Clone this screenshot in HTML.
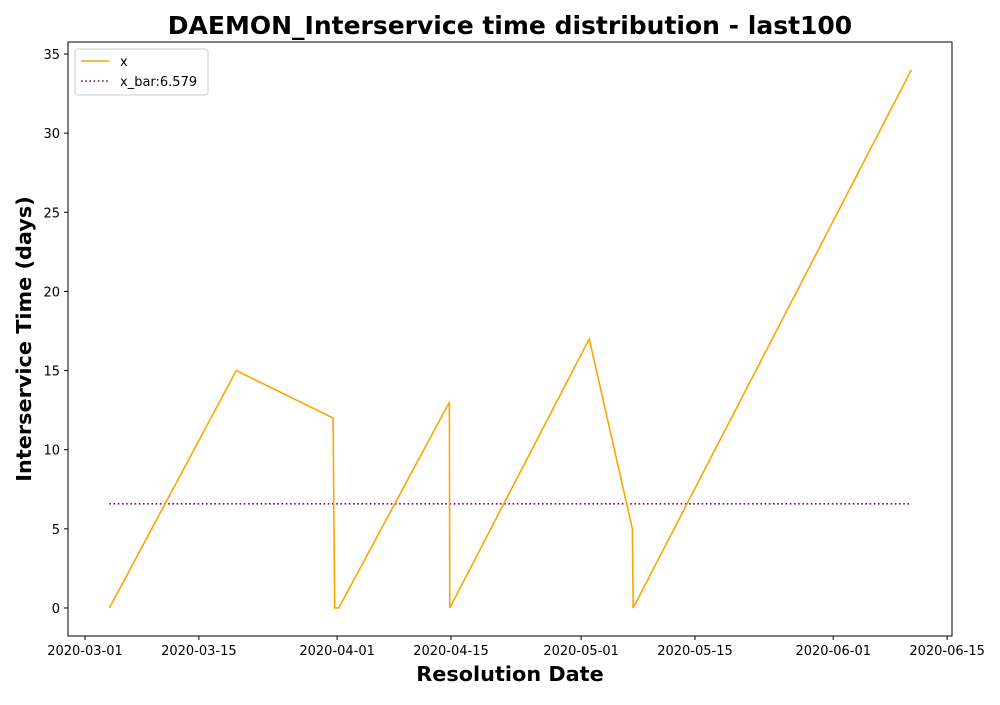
<!DOCTYPE html>
<html><head><meta charset="utf-8">
<style>
body{margin:0;background:#fff;font-family:"Liberation Sans","DejaVu Sans",sans-serif;}
svg text{font-family:"DejaVu Sans","Liberation Sans",sans-serif;}
</style></head>
<body>
<svg id="chart" width="1000" height="700">
<text x="510" y="34" text-anchor="middle" font-size="25" font-weight="bold">DAEMON_Interservice time distribution - last100</text>
<g id="plot"></g>
<text x="510" y="681" text-anchor="middle" font-size="20.8" font-weight="bold">Resolution Date</text>
<text transform="translate(31,339) rotate(-90)" text-anchor="middle" font-size="20.8" font-weight="bold">Interservice Time (days)</text>
</svg>
<script>
// days since 2020-03-01
const xDays = [3, 18.6, 30.5, 30.7, 31.2, 44.8, 44.85, 62, 67.3, 67.4, 101.6];
const yValues = [0, 15, 12, 0, 0, 13, 0, 17, 5, 0, 34];
const meanValue = 6.579;
const xTickDays = [0, 14, 31, 45, 61, 75, 92, 106];
const xTickLabels = ["2020-03-01","2020-03-15","2020-04-01","2020-04-15","2020-05-01","2020-05-15","2020-06-01","2020-06-15"];
const yTicks = [0, 5, 10, 15, 20, 25, 30, 35];

const L=68,R=952,T=42,B=636;
const xMin=-2.09,xMax=106.6,yMin=-1.77,yMax=35.76;
const sx=d=>L+(d-xMin)/(xMax-xMin)*(R-L);
const sy=v=>B-(v-yMin)/(yMax-yMin)*(B-T);
const NS="http://www.w3.org/2000/svg";
const g=document.getElementById('plot');
function mk(t,a){const e=document.createElementNS(NS,t);for(const k in a)e.setAttribute(k,a[k]);g.appendChild(e);return e;}

const frame=mk('rect',{x:L,y:T,width:R-L,height:B-T,fill:'none',stroke:'#000','stroke-width':1});



xTickDays.forEach((d,i)=>{
  const x=sx(d);
  const t=mk('line',{x1:x,x2:x,y1:B,y2:B+4,stroke:'#000'});
  
  
  const l=mk('text',{x:x,y:B+19,'text-anchor':'middle','font-size':13});
  l.textContent=xTickLabels[i];
  
  
});
yTicks.forEach(v=>{
  const y=sy(v);
  const t=mk('line',{x1:L-4,x2:L,y1:y,y2:y,stroke:'#000'});
  
  
  const l=mk('text',{x:L-8,y:y+5,'text-anchor':'end','font-size':13});
  l.textContent=v;
  
  
});

const mean=mk('line',{x1:sx(xDays[0]),x2:sx(xDays[xDays.length-1]),y1:sy(meanValue),y2:sy(meanValue),stroke:'#800080','stroke-width':1.6,'stroke-dasharray':'1.6,2.6'});



const pts=xDays.map((d,i)=>sx(d)+','+sy(yValues[i])).join(' ');
const line=mk('polyline',{points:pts,fill:'none',stroke:'#FFA500','stroke-width':1.6});



const lg=mk('rect',{x:75,y:49,width:133,height:46,fill:'#fff',stroke:'#ccc',rx:3});


const l1=mk('line',{x1:81,x2:109,y1:61,y2:61,stroke:'#FFA500','stroke-width':1.6});


const t1=mk('text',{x:120,y:66,'font-size':13});t1.textContent='x';


const l2=mk('line',{x1:81,x2:109,y1:81,y2:81,stroke:'#800080','stroke-width':1.6,'stroke-dasharray':'1.6,2.6'});


const t2=mk('text',{x:120,y:86,'font-size':13});t2.textContent='x_bar:'+meanValue;


</script>
</body></html>
